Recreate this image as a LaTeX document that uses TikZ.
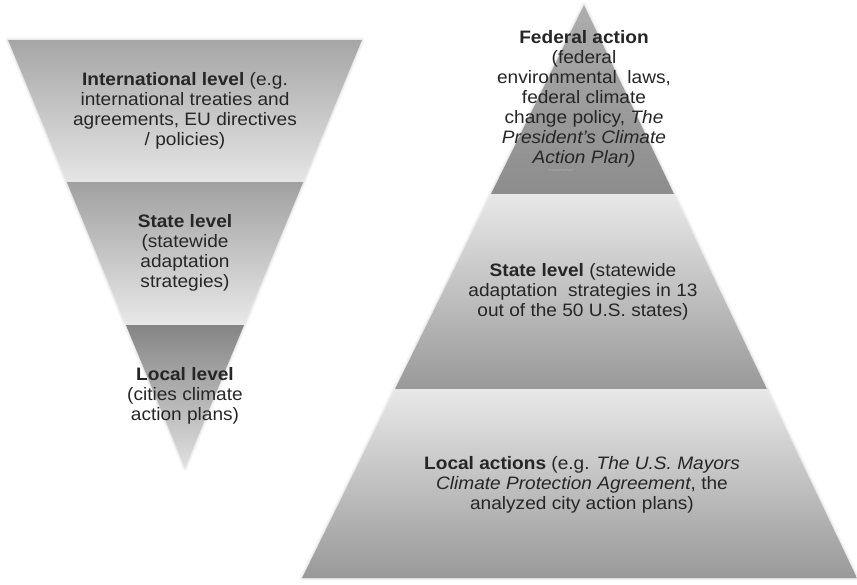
\documentclass[tikz,border=0pt]{standalone}
\usepackage{fontspec}
\setmainfont{Liberation Sans}[FakeStretch=1.06]
\usetikzlibrary{decorations.pathmorphing,shadows.blur}
\definecolor{txt}{HTML}{262626}
\tikzset{
  band/.style={draw=none},
  glow/.style={blur shadow={shadow xshift=0pt, shadow yshift=0pt, shadow blur radius=3pt, shadow opacity=22}},
  lbl/.style={align=center, text=txt, inner sep=0pt, font=\fontsize{18}{20}\selectfont},
}
\begin{document}
\begin{tikzpicture}[x=1pt,y=-1pt]
\useasboundingbox (0,0) rectangle (857,584);
% ---------- inverted triangle ----------
\coordinate (itl) at (8,40);
\coordinate (itr) at (362,40);
\coordinate (iml) at (66.7,182);
\coordinate (imr) at (303.3,182);
\coordinate (ibl) at (125.9,325);
\coordinate (ibr) at (244.1,325);
\coordinate (iap) at (185,468);
\fill[white, glow] (itl) -- (itr) -- (iap) -- cycle;
\shade[band, top color=black!35, middle color=black!20, bottom color=black!10]
  (itl) -- (itr) -- (imr) -- (iml) -- cycle;
\shade[band, top color=black!37, middle color=black!20, bottom color=black!9]
  (iml) -- (imr) -- (ibr) -- (ibl) -- cycle;
\shade[band, top color=black!48, middle color=black!28, bottom color=black!12]
  (ibl) -- (ibr) -- (iap) -- cycle;
\node[lbl] (intl) at (185,111) {\textbf{International level} (e.g.\\international treaties and\\agreements, EU directives\\/ policies)};
\node[lbl] (istate) at (185,253) {\textbf{State level}\\(statewide\\adaptation\\strategies)};
\node[lbl] (ilocal) at (185,396) {\textbf{Local level}\\(cities climate\\action plans)};
% ---------- pyramid ----------
\coordinate (pap) at (584,5);
\coordinate (pml) at (491,194);
\coordinate (pmr) at (674,194);
\coordinate (pbl) at (395,389);
\coordinate (pbr) at (766.9,389);
\coordinate (pgl) at (302,578);
\coordinate (pgr) at (857,578);
\fill[white, glow] (pap) -- (pgr) -- (pgl) -- cycle;
\shade[band, top color=black!32, middle color=black!39, bottom color=black!45]
  (pap) -- (pmr) -- (pml) -- cycle;
\shade[band, top color=black!9, middle color=black!13, bottom color=black!40]
  (pml) -- (pmr) -- (pbr) -- (pbl) -- cycle;
\shade[band, top color=black!9, middle color=black!20, bottom color=black!40]
  (pbl) -- (pbr) -- (pgr) -- (pgl) -- cycle;
\node[lbl] (fed) at (584,99) {\textbf{Federal action}\\(federal\\environmental\ \ laws,\\federal climate\\change policy, \textit{The}\\\textit{President’s Climate}\\\textit{Action Plan)}};
\node[lbl] (pstate) at (583,292) {\textbf{State level} (statewide\\adaptation\ \ strategies in 13\\out of the 50 U.S. states)};
\node[lbl] (plocal) at (582,485) {\textbf{Local actions} (e.g. \textit{The U.S. Mayors}\\\textit{Climate Protection Agreement}, the\\analyzed city action plans)};
\coordinate (sq1) at (548,170);
\coordinate (sq2) at (574,170);
\draw[black!35, line width=0.6pt, decorate, decoration={snake, amplitude=0.8pt, segment length=3pt}] (sq1) -- (sq2);
\end{tikzpicture}
\end{document}
